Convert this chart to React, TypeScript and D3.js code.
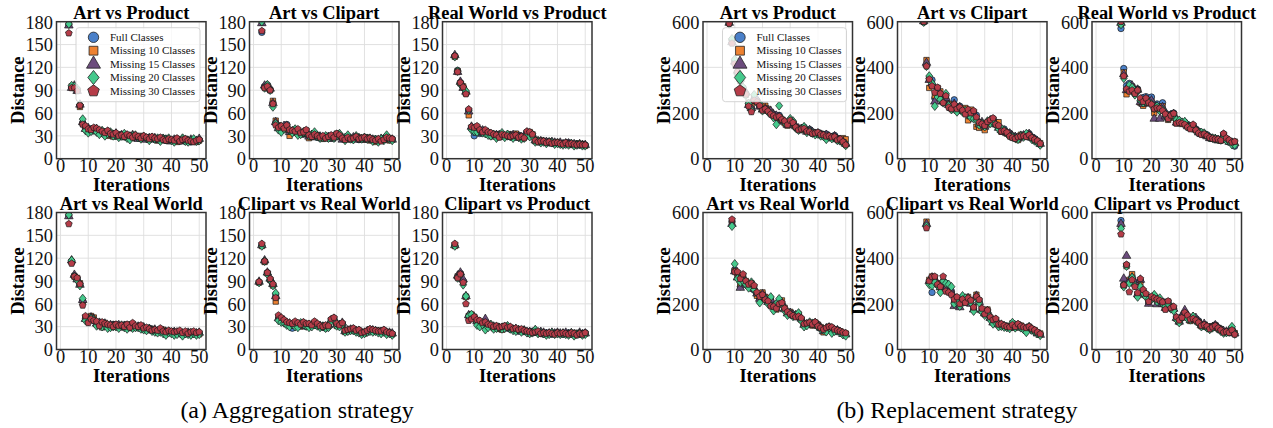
import React from 'react';
import * as d3 from 'd3';

// ---- aggregation strategy (y 0..180) ----
// x starts at 3 unless noted
const aggArtProductFull = [176, 94, 95, 91, 70, 47, 40, 37, 39, 38, 37, 36, 33, 35, 34, 31, 33, 30, 31, 30, 29, 31, 28, 30, 29, 27, 28, 27, 26, 28, 27, 25, 26, 25, 27, 24, 25, 24, 23, 26, 24, 25, 23, 24, 22, 23, 24, 25];
const aggArtProductM10 = [176, 95, 94, 90, 68, 46, 42, 38, 36, 40, 38, 34, 36, 32, 30, 34, 29, 31, 32, 29, 30, 28, 31, 27, 29, 28, 30, 26, 27, 25, 28, 26, 24, 27, 25, 26, 23, 25, 24, 22, 25, 23, 26, 22, 24, 23, 22, 24];
const aggArtProductM15 = [175, 93, 96, 89, 71, 48, 39, 40, 37, 36, 39, 35, 34, 33, 35, 32, 31, 33, 29, 31, 28, 30, 29, 31, 28, 26, 27, 28, 25, 27, 26, 27, 25, 24, 26, 25, 24, 23, 25, 24, 23, 26, 24, 23, 25, 22, 23, 26];
const aggArtProductM20 = [177, 96, 95, 92, 71, 52, 37, 34, 36, 38, 35, 32, 37, 30, 33, 35, 30, 32, 28, 30, 33, 27, 25, 30, 31, 28, 26, 29, 27, 24, 28, 26, 27, 23, 26, 25, 27, 24, 22, 25, 24, 27, 23, 22, 24, 26, 23, 24];
const aggArtProductM30 = [165, 93, 93, 89, 70, 45, 43, 39, 38, 41, 40, 38, 36, 34, 37, 33, 32, 34, 30, 31, 29, 32, 30, 28, 31, 29, 27, 30, 28, 26, 29, 27, 26, 28, 25, 24, 26, 25, 24, 27, 23, 25, 26, 24, 23, 22, 24, 25];

const aggArtClipartFull = [166, 95, 97, 91, 74, 47, 42, 38, 40, 45, 36, 35, 38, 33, 34, 32, 35, 30, 29, 31, 28, 27, 29, 28, 30, 27, 29, 32, 31, 26, 25, 28, 27, 26, 28, 25, 27, 26, 27, 25, 24, 26, 23, 25, 27, 29, 25, 26];
const aggArtClipartM10 = [179, 94, 95, 90, 76, 50, 44, 40, 42, 38, 30, 37, 34, 36, 32, 33, 37, 27, 30, 29, 31, 28, 26, 27, 29, 28, 30, 33, 29, 27, 26, 29, 25, 27, 26, 28, 26, 25, 28, 24, 26, 22, 25, 24, 26, 28, 24, 25];
const aggArtClipartM15 = [178, 96, 96, 92, 73, 48, 40, 39, 43, 41, 35, 36, 37, 35, 33, 34, 33, 29, 31, 28, 30, 29, 27, 28, 28, 26, 28, 31, 30, 25, 27, 27, 26, 28, 25, 27, 25, 27, 26, 25, 25, 24, 24, 26, 25, 27, 26, 25];
const aggArtClipartM20 = [180, 93, 97, 90, 68, 46, 38, 35, 39, 43, 37, 34, 39, 31, 32, 35, 34, 30, 32, 35, 29, 27, 28, 30, 27, 29, 27, 30, 33, 28, 24, 31, 26, 25, 30, 27, 26, 28, 26, 27, 23, 25, 22, 26, 24, 31, 26, 24];
const aggArtClipartM30 = [168, 93, 95, 90, 72, 44, 41, 43, 40, 44, 38, 37, 36, 39, 34, 35, 38, 31, 29, 32, 30, 28, 30, 27, 29, 31, 28, 33, 31, 27, 25, 28, 26, 27, 29, 26, 27, 28, 26, 27, 25, 24, 26, 23, 25, 28, 27, 26];

const aggRealProductFull = [135, 116, 100, 94, 87, 63, 40, 30, 36, 33, 36, 35, 33, 31, 30, 32, 30, 31, 30, 29, 31, 30, 28, 31, 29, 28, 35, 34, 30, 24, 23, 22, 23, 22, 21, 22, 20, 21, 20, 19, 20, 21, 19, 18, 19, 18, 19, 18];
const aggRealProductM10 = [134, 115, 99, 95, 86, 57, 41, 38, 37, 35, 38, 34, 32, 33, 31, 30, 32, 29, 31, 30, 32, 29, 33, 30, 27, 29, 33, 35, 32, 23, 22, 24, 22, 21, 23, 21, 20, 22, 19, 20, 21, 20, 18, 19, 20, 18, 19, 17];
const aggRealProductM15 = [136, 114, 101, 93, 88, 62, 42, 39, 34, 36, 37, 33, 34, 32, 29, 31, 31, 30, 29, 31, 30, 31, 29, 29, 28, 30, 34, 33, 31, 24, 23, 23, 22, 22, 21, 22, 21, 20, 21, 19, 20, 20, 19, 19, 18, 19, 18, 18];
const aggRealProductM20 = [134, 115, 98, 94, 89, 64, 38, 36, 35, 37, 34, 33, 31, 30, 32, 27, 30, 34, 28, 32, 29, 27, 30, 28, 26, 27, 31, 29, 30, 22, 23, 21, 22, 20, 22, 21, 19, 20, 19, 18, 19, 18, 20, 17, 18, 19, 17, 17];
const aggRealProductM30 = [135, 114, 100, 94, 85, 65, 42, 41, 43, 38, 35, 38, 35, 34, 32, 31, 28, 32, 31, 30, 29, 30, 31, 28, 29, 27, 36, 35, 32, 24, 22, 23, 23, 21, 22, 20, 21, 21, 20, 19, 21, 19, 20, 19, 18, 19, 18, 18];

const aggArtRealFull = [176, 116, 97, 93, 86, 64, 41, 39, 43, 38, 35, 36, 34, 33, 32, 31, 33, 32, 31, 30, 32, 31, 29, 33, 30, 31, 29, 28, 27, 28, 26, 25, 24, 26, 25, 22, 24, 23, 22, 21, 23, 19, 22, 21, 20, 22, 20, 21];
const aggArtRealM10 = [176, 115, 96, 94, 87, 63, 42, 38, 44, 42, 33, 34, 29, 35, 31, 30, 32, 33, 30, 31, 29, 33, 28, 31, 29, 30, 30, 27, 28, 26, 27, 24, 25, 23, 26, 24, 22, 24, 21, 22, 21, 22, 20, 23, 21, 20, 22, 20];
const aggArtRealM15 = [175, 117, 98, 92, 85, 65, 40, 40, 42, 40, 34, 35, 33, 34, 30, 32, 31, 31, 32, 29, 31, 30, 30, 32, 28, 30, 28, 29, 26, 27, 25, 26, 23, 25, 24, 23, 23, 22, 23, 21, 22, 20, 21, 22, 21, 21, 21, 22];
const aggArtRealM20 = [177, 117, 96, 91, 84, 67, 38, 37, 41, 39, 31, 33, 30, 32, 28, 29, 30, 30, 28, 32, 29, 27, 31, 28, 29, 29, 27, 26, 25, 27, 24, 23, 22, 23, 21, 19, 22, 21, 19, 20, 22, 18, 21, 20, 19, 21, 19, 20];
const aggArtRealM30 = [165, 113, 96, 94, 86, 58, 44, 35, 40, 38, 37, 31, 36, 34, 33, 32, 30, 33, 31, 32, 30, 33, 29, 35, 31, 30, 32, 28, 29, 27, 25, 26, 25, 28, 24, 23, 25, 24, 23, 24, 25, 22, 24, 21, 23, 24, 22, 23];

// x starts at 2
const aggClipartRealFull = [88, 137, 116, 101, 91, 85, 72, 40, 38, 36, 33, 32, 28, 34, 31, 33, 35, 30, 31, 33, 35, 32, 30, 31, 28, 30, 39, 41, 32, 33, 34, 24, 25, 26, 27, 24, 25, 21, 22, 24, 26, 25, 24, 24, 22, 25, 21, 22, 20];
const aggClipartRealM10 = [88, 136, 115, 100, 92, 84, 63, 42, 40, 37, 34, 33, 32, 31, 34, 30, 32, 33, 30, 32, 34, 31, 31, 29, 30, 31, 38, 40, 31, 34, 33, 23, 24, 25, 26, 25, 23, 22, 21, 23, 25, 24, 23, 25, 23, 24, 22, 21, 20];
const aggClipartRealM15 = [89, 137, 117, 101, 93, 86, 70, 41, 39, 38, 35, 34, 31, 33, 32, 31, 34, 32, 32, 31, 33, 32, 31, 30, 29, 32, 38, 40, 33, 32, 35, 24, 25, 26, 26, 24, 24, 22, 22, 24, 25, 25, 24, 23, 23, 24, 22, 22, 21];
const aggClipartRealM20 = [88, 136, 116, 99, 91, 84, 74, 38, 36, 35, 32, 30, 33, 30, 29, 35, 33, 31, 29, 30, 33, 31, 29, 30, 28, 29, 37, 39, 31, 30, 33, 23, 24, 25, 25, 23, 22, 20, 21, 23, 24, 23, 24, 22, 21, 23, 20, 21, 19];
const aggClipartRealM30 = [89, 139, 116, 101, 93, 86, 68, 45, 42, 39, 36, 35, 34, 37, 35, 33, 36, 34, 34, 32, 37, 34, 31, 30, 32, 31, 40, 42, 34, 32, 35, 25, 26, 27, 28, 25, 26, 22, 23, 25, 27, 26, 25, 24, 24, 26, 23, 22, 21];

const aggClipartProductFull = [137, 95, 100, 90, 70, 43, 44, 41, 36, 34, 32, 35, 30, 31, 29, 30, 28, 27, 30, 28, 27, 26, 25, 24, 26, 24, 23, 22, 24, 23, 22, 21, 20, 22, 21, 20, 21, 22, 21, 20, 21, 22, 20, 19, 21, 20, 21, 22];
const aggClipartProductM10 = [136, 96, 99, 89, 69, 44, 46, 43, 38, 35, 33, 34, 31, 30, 28, 31, 27, 26, 31, 29, 28, 27, 26, 25, 25, 23, 24, 21, 23, 24, 23, 22, 21, 21, 20, 21, 22, 21, 20, 21, 20, 21, 21, 20, 22, 21, 20, 21];
const aggClipartProductM15 = [137, 97, 101, 92, 70, 45, 43, 42, 37, 36, 34, 40, 32, 31, 30, 29, 28, 28, 29, 30, 28, 26, 27, 25, 24, 25, 23, 23, 22, 25, 22, 23, 22, 20, 21, 22, 21, 22, 21, 21, 22, 20, 21, 20, 19, 22, 20, 21];
const aggClipartProductM20 = [136, 94, 98, 85, 70, 44, 46, 40, 32, 30, 33, 26, 29, 33, 27, 28, 29, 27, 28, 31, 27, 25, 24, 26, 23, 25, 22, 21, 22, 26, 21, 22, 21, 19, 20, 22, 20, 21, 20, 21, 20, 19, 22, 18, 20, 21, 19, 20];
const aggClipartProductM30 = [139, 94, 99, 88, 60, 38, 40, 43, 39, 38, 35, 36, 33, 32, 30, 31, 29, 30, 31, 29, 30, 27, 28, 26, 27, 25, 24, 23, 22, 23, 24, 21, 22, 21, 22, 21, 20, 22, 21, 22, 21, 20, 22, 21, 19, 21, 20, 22];

// ---- replacement strategy (y 0..600) ----
// x starts at 8
const repArtProductFull = [598, 520, 430, 380, 345, 310, 285, 240, 225, 262, 255, 235, 218, 225, 210, 200, 195, 180, 190, 170, 160, 150, 170, 160, 140, 130, 128, 138, 120, 128, 118, 112, 115, 110, 105, 108, 100, 95, 102, 90, 85, 78, 62];
const repArtProductM10 = [600, 515, 420, 375, 340, 305, 280, 245, 230, 270, 250, 230, 222, 232, 218, 205, 190, 185, 178, 165, 155, 145, 160, 150, 138, 128, 125, 132, 120, 122, 115, 110, 112, 108, 102, 100, 98, 92, 95, 88, 82, 90, 85];
const repArtProductM15 = [595, 510, 425, 385, 350, 300, 290, 235, 222, 265, 258, 228, 215, 220, 212, 208, 192, 188, 182, 168, 162, 148, 165, 155, 142, 132, 130, 135, 118, 125, 116, 108, 110, 105, 100, 104, 96, 90, 98, 85, 80, 75, 65];
const repArtProductM20 = [590, 525, 435, 370, 338, 312, 278, 242, 212, 280, 245, 240, 210, 215, 205, 198, 180, 150, 232, 175, 158, 155, 175, 165, 135, 125, 132, 140, 115, 120, 112, 105, 108, 100, 98, 85, 95, 88, 92, 80, 78, 70, 58];
const repArtProductM30 = [592, 505, 415, 380, 342, 298, 282, 230, 205, 255, 248, 232, 212, 218, 208, 195, 188, 182, 185, 172, 165, 148, 168, 158, 138, 126, 130, 132, 120, 118, 110, 112, 115, 106, 104, 98, 100, 94, 96, 82, 86, 74, 60];

// x starts at 8
const repArtClipartFull = [598, 410, 352, 345, 265, 300, 270, 248, 262, 238, 225, 258, 220, 230, 215, 200, 210, 195, 205, 190, 160, 145, 150, 160, 165, 175, 160, 140, 120, 130, 115, 112, 100, 98, 90, 95, 100, 105, 110, 95, 88, 75, 62];
const repArtClipartM10 = [600, 432, 310, 320, 275, 310, 295, 255, 270, 240, 220, 232, 210, 218, 208, 222, 168, 215, 198, 140, 135, 155, 125, 150, 162, 170, 155, 160, 118, 122, 110, 108, 95, 92, 82, 105, 98, 100, 95, 90, 80, 78, 68];
const repArtClipartM15 = [602, 420, 345, 330, 250, 305, 275, 250, 265, 235, 222, 240, 215, 225, 210, 205, 200, 185, 200, 175, 150, 160, 140, 158, 168, 165, 150, 135, 125, 118, 112, 110, 98, 95, 88, 100, 102, 98, 108, 92, 85, 76, 65];
const repArtClipartM20 = [598, 405, 362, 330, 230, 270, 260, 245, 285, 232, 215, 230, 205, 220, 205, 212, 195, 180, 175, 170, 148, 155, 140, 165, 155, 160, 148, 130, 132, 125, 110, 100, 95, 90, 85, 100, 95, 110, 102, 85, 78, 70, 60];
const repArtClipartM30 = [600, 405, 348, 318, 290, 312, 285, 245, 275, 225, 218, 238, 218, 225, 212, 195, 215, 200, 210, 182, 158, 152, 145, 162, 170, 178, 150, 145, 120, 122, 115, 98, 92, 88, 95, 98, 100, 96, 104, 92, 84, 78, 66];

// x starts at 9
const repRealProductFull = [570, 395, 320, 330, 318, 298, 305, 250, 268, 272, 262, 270, 215, 240, 225, 245, 200, 185, 195, 200, 160, 165, 158, 160, 150, 138, 145, 130, 120, 112, 110, 105, 95, 90, 88, 85, 82, 108, 88, 78, 70, 55];
const repRealProductM10 = [590, 378, 282, 310, 315, 290, 300, 245, 232, 255, 245, 250, 200, 225, 215, 230, 195, 170, 180, 195, 155, 160, 152, 155, 145, 135, 140, 125, 118, 110, 105, 100, 92, 88, 85, 82, 80, 100, 85, 75, 72, 75];
const repRealProductM15 = [595, 370, 300, 305, 320, 295, 302, 248, 240, 260, 250, 255, 175, 228, 175, 225, 185, 180, 190, 195, 158, 162, 155, 158, 142, 136, 142, 128, 115, 108, 106, 98, 90, 87, 86, 80, 84, 102, 84, 74, 70, 68];
const repRealProductM20 = [588, 352, 305, 322, 312, 280, 298, 255, 245, 250, 248, 240, 220, 230, 210, 215, 190, 178, 188, 192, 170, 168, 160, 162, 140, 140, 138, 125, 118, 115, 112, 100, 92, 90, 88, 84, 82, 95, 80, 76, 62, 60];
const repRealProductM30 = [600, 362, 305, 295, 300, 285, 300, 265, 250, 265, 245, 238, 218, 222, 220, 210, 195, 175, 190, 198, 155, 158, 155, 150, 138, 130, 150, 125, 112, 105, 108, 100, 92, 88, 86, 85, 80, 110, 90, 82, 72, 75];

// x starts at 9
const repArtRealFull = [560, 350, 330, 275, 315, 290, 285, 280, 260, 240, 225, 245, 228, 205, 215, 185, 195, 210, 200, 178, 160, 162, 150, 148, 150, 132, 105, 108, 112, 108, 115, 110, 92, 82, 88, 98, 92, 80, 86, 78, 70, 68];
const repArtRealM10 = [555, 345, 320, 285, 320, 300, 280, 290, 270, 235, 215, 250, 230, 210, 222, 190, 175, 205, 215, 182, 165, 165, 155, 145, 155, 130, 110, 112, 115, 105, 118, 108, 98, 75, 90, 100, 95, 85, 82, 80, 72, 70];
const repArtRealM15 = [550, 342, 315, 270, 310, 285, 282, 285, 265, 245, 222, 242, 225, 208, 218, 188, 180, 212, 205, 176, 158, 160, 152, 150, 148, 135, 108, 110, 112, 110, 116, 105, 95, 80, 92, 96, 90, 82, 84, 76, 68, 66];
const repArtRealM20 = [540, 375, 310, 295, 300, 285, 270, 295, 262, 248, 205, 232, 222, 200, 230, 170, 200, 222, 195, 170, 150, 155, 145, 150, 160, 125, 100, 105, 120, 115, 110, 100, 90, 85, 78, 95, 72, 80, 82, 74, 65, 60];
const repArtRealM30 = [570, 340, 340, 310, 330, 300, 285, 290, 280, 250, 232, 240, 218, 212, 190, 188, 180, 200, 205, 180, 165, 155, 148, 142, 145, 138, 112, 115, 118, 110, 120, 102, 95, 88, 95, 100, 98, 88, 84, 80, 75, 72];

// x starts at 9
const repClipartRealFull = [545, 295, 250, 300, 285, 270, 285, 290, 270, 255, 205, 225, 195, 230, 210, 220, 205, 178, 230, 210, 175, 160, 170, 135, 125, 130, 108, 110, 105, 100, 98, 112, 100, 108, 100, 95, 92, 98, 90, 82, 72, 66];
const repClipartRealM10 = [560, 305, 320, 315, 290, 275, 295, 275, 260, 245, 215, 220, 190, 225, 215, 230, 210, 182, 240, 215, 170, 155, 175, 140, 120, 125, 112, 105, 100, 102, 95, 115, 98, 110, 105, 92, 90, 100, 88, 85, 75, 70];
const repClipartRealM15 = [550, 300, 315, 305, 288, 272, 290, 265, 255, 250, 190, 218, 185, 228, 205, 225, 200, 175, 235, 208, 172, 158, 168, 138, 118, 128, 110, 108, 102, 98, 96, 110, 96, 105, 98, 94, 88, 96, 86, 80, 70, 64];
const repClipartRealM20 = [540, 285, 280, 295, 280, 250, 300, 290, 285, 275, 200, 210, 190, 235, 225, 215, 205, 168, 225, 205, 165, 150, 160, 130, 112, 118, 100, 102, 98, 96, 92, 118, 95, 102, 95, 88, 75, 100, 85, 78, 70, 62];
const repClipartRealM30 = [532, 300, 318, 320, 285, 275, 320, 255, 250, 240, 220, 230, 200, 220, 205, 225, 215, 185, 232, 218, 180, 155, 172, 142, 130, 135, 110, 112, 105, 100, 98, 108, 100, 112, 102, 98, 95, 100, 92, 85, 76, 68];

// x starts at 9
const repClipartProductFull = [565, 285, 370, 295, 320, 285, 235, 300, 255, 240, 205, 228, 235, 222, 205, 210, 185, 205, 185, 180, 140, 125, 145, 158, 145, 130, 140, 135, 125, 105, 110, 100, 92, 100, 108, 96, 90, 78, 76, 80, 90, 70];
const repClipartProductM10 = [545, 280, 365, 305, 330, 290, 240, 295, 250, 235, 210, 225, 230, 215, 210, 205, 180, 210, 190, 175, 135, 120, 140, 155, 140, 125, 135, 130, 120, 102, 108, 98, 90, 102, 105, 92, 88, 80, 75, 78, 88, 72];
const repClipartProductM15 = [550, 310, 410, 300, 315, 295, 242, 305, 258, 238, 200, 225, 232, 198, 215, 200, 182, 200, 180, 178, 138, 122, 148, 172, 148, 128, 142, 138, 122, 106, 112, 100, 94, 98, 106, 95, 86, 80, 78, 82, 92, 70];
const repClipartProductM20 = [530, 275, 365, 290, 315, 280, 230, 275, 248, 230, 220, 220, 240, 210, 225, 200, 190, 200, 178, 170, 132, 118, 138, 150, 135, 130, 145, 125, 115, 100, 105, 95, 88, 95, 100, 90, 80, 72, 74, 76, 100, 68];
const repClipartProductM30 = [505, 282, 372, 252, 305, 275, 248, 310, 262, 245, 210, 232, 225, 220, 215, 208, 175, 212, 182, 188, 142, 128, 140, 162, 150, 132, 135, 128, 118, 104, 108, 102, 90, 98, 104, 94, 85, 75, 78, 74, 85, 66];

const seriesNames = ['Full Classes', 'Missing 10 Classes', 'Missing 15 Classes', 'Missing 20 Classes', 'Missing 30 Classes'];
const seriesColors = ['#4a80c9', '#ee8231', '#6c4c7d', '#45c98c', '#b53c48'];
const xTicks = [0, 10, 20, 30, 40, 50];
const aggYTicks = [0, 30, 60, 90, 120, 150, 180];
const repYTicks = [0, 200, 400, 600];

const pentagon = {
  draw(ctx: any, size: number) {
    const r = Math.sqrt(size / 2.378);
    for (let i = 0; i < 5; i++) {
      const a = -Math.PI / 2 + (i * 2 * Math.PI) / 5;
      if (i === 0) ctx.moveTo(r * Math.cos(a), r * Math.sin(a));
      else ctx.lineTo(r * Math.cos(a), r * Math.sin(a));
    }
    ctx.closePath();
  },
};
const diamond = {
  draw(ctx: any, size: number) {
    const r = Math.sqrt(size / 2);
    ctx.moveTo(0, -r);
    ctx.lineTo(r * 0.8, 0);
    ctx.lineTo(0, r);
    ctx.lineTo(-r * 0.8, 0);
    ctx.closePath();
  },
};
const symbolTypes: any[] = [d3.symbolCircle, d3.symbolSquare, d3.symbolTriangle, diamond, pentagon];
const plotSizes = [32, 29, 32, 38, 30];
const legendSizes = [85, 78, 85, 100, 88];

const panels = [
  { title: 'Art vs Product', rep: false, start: 3, col: 0, row: 0, legend: true, data: [aggArtProductFull, aggArtProductM10, aggArtProductM15, aggArtProductM20, aggArtProductM30] },
  { title: 'Art vs Clipart', rep: false, start: 3, col: 1, row: 0, legend: false, data: [aggArtClipartFull, aggArtClipartM10, aggArtClipartM15, aggArtClipartM20, aggArtClipartM30] },
  { title: 'Real World vs Product', rep: false, start: 3, col: 2, row: 0, legend: false, data: [aggRealProductFull, aggRealProductM10, aggRealProductM15, aggRealProductM20, aggRealProductM30] },
  { title: 'Art vs Real World', rep: false, start: 3, col: 0, row: 1, legend: false, data: [aggArtRealFull, aggArtRealM10, aggArtRealM15, aggArtRealM20, aggArtRealM30] },
  { title: 'Clipart vs Real World', rep: false, start: 2, col: 1, row: 1, legend: false, data: [aggClipartRealFull, aggClipartRealM10, aggClipartRealM15, aggClipartRealM20, aggClipartRealM30] },
  { title: 'Clipart vs Product', rep: false, start: 3, col: 2, row: 1, legend: false, data: [aggClipartProductFull, aggClipartProductM10, aggClipartProductM15, aggClipartProductM20, aggClipartProductM30] },
  { title: 'Art vs Product', rep: true, start: 8, col: 0, row: 0, legend: true, data: [repArtProductFull, repArtProductM10, repArtProductM15, repArtProductM20, repArtProductM30] },
  { title: 'Art vs Clipart', rep: true, start: 8, col: 1, row: 0, legend: false, data: [repArtClipartFull, repArtClipartM10, repArtClipartM15, repArtClipartM20, repArtClipartM30] },
  { title: 'Real World vs Product', rep: true, start: 9, col: 2, row: 0, legend: false, data: [repRealProductFull, repRealProductM10, repRealProductM15, repRealProductM20, repRealProductM30] },
  { title: 'Art vs Real World', rep: true, start: 9, col: 0, row: 1, legend: false, data: [repArtRealFull, repArtRealM10, repArtRealM15, repArtRealM20, repArtRealM30] },
  { title: 'Clipart vs Real World', rep: true, start: 9, col: 1, row: 1, legend: false, data: [repClipartRealFull, repClipartRealM10, repClipartRealM15, repClipartRealM20, repClipartRealM30] },
  { title: 'Clipart vs Product', rep: true, start: 9, col: 2, row: 1, legend: false, data: [repClipartProductFull, repClipartProductM10, repClipartProductM15, repClipartProductM20, repClipartProductM30] },
];

const FONT = "'Liberation Serif', 'Times New Roman', serif";
const aggLefts = [56.5, 249.5, 442.5];
const repLefts = [703, 897.5, 1092];
const rowTops = [21.7, 212.5];
const PW = 149.5;
const PH = 137;

function Panel({ p, idx }: any) {
  const left = p.rep ? repLefts[p.col] : aggLefts[p.col];
  const top = rowTops[p.row];
  const x = d3.scaleLinear().domain([-1.45, 52.45]).range([0, PW]);
  const y = d3.scaleLinear().domain([0, p.rep ? 600 : 180]).range([PH, 0]);
  const yTicks = p.rep ? repYTicks : aggYTicks;
  const clipId = 'clip' + idx;
  const legW = 124;
  const legX = PW - 6 - legW;
  return (
    <g transform={`translate(${left},${top})`}>
      <defs>
        <clipPath id={clipId}>
          <rect x={0} y={0} width={PW} height={PH} />
        </clipPath>
      </defs>
      {xTicks.map((t) => (
        <line key={'gx' + t} x1={x(t)} x2={x(t)} y1={0} y2={PH} stroke="#dedede" strokeWidth={0.9} />
      ))}
      {yTicks.map((t) => (
        <line key={'gy' + t} x1={0} x2={PW} y1={y(t)} y2={y(t)} stroke="#dedede" strokeWidth={0.9} />
      ))}
      <g clipPath={`url(#${clipId})`}>
        {p.data.map((arr: number[], si: number) => {
          const sym = d3.symbol().type(symbolTypes[si]).size(plotSizes[si])();
          return arr.map((v, i) => (
            <path
              key={si + '-' + i}
              d={sym as string}
              transform={`translate(${x(p.start + i)},${y(v)})`}
              fill={seriesColors[si]}
              stroke="#1a1a1a"
              strokeWidth={0.7}
            />
          ));
        })}
      </g>
      <rect x={0} y={0} width={PW} height={PH} fill="none" stroke="#333" strokeWidth={1.5} />
      {xTicks.map((t) => (
        <text key={'tx' + t} x={x(t)} y={PH + 13.5} textAnchor="middle" fontSize={18.4} fontFamily={FONT} fill="#111">
          {t}
        </text>
      ))}
      {yTicks.map((t) => (
        <text key={'ty' + t} x={-3.5} y={y(t) + 6.8} textAnchor="end" fontSize={18.4} fontFamily={FONT} fill="#111">
          {t}
        </text>
      ))}
      <text x={PW / 2} y={-3} textAnchor="middle" fontSize={18.4} fontWeight="bold" fontFamily={FONT}>
        {p.title}
      </text>
      <text x={PW / 2} y={PH + 32} textAnchor="middle" fontSize={18.4} fontWeight="bold" fontFamily={FONT}>
        Iterations
      </text>
      <text
        transform={`translate(${-33},${PH / 2}) rotate(-90)`}
        textAnchor="middle"
        fontSize={18.4}
        fontWeight="bold"
        fontFamily={FONT}
      >
        Distance
      </text>
      {p.legend && (
        <g transform={`translate(${legX},6)`}>
          <rect x={0} y={0} width={legW} height={74} rx={3} fill="#fff" fillOpacity={0.8} stroke="#cfcfcf" strokeWidth={0.9} />
          {seriesNames.map((name, si) => {
            const sym = d3.symbol().type(symbolTypes[si]).size(legendSizes[si])();
            const cy = 9.6 + si * 13.4;
            return (
              <g key={name}>
                <path d={sym as string} transform={`translate(17.5,${cy})`} fill={seriesColors[si]} stroke="#222" strokeWidth={0.8} />
                <text x={34} y={cy + 3.8} fontSize={11} fontFamily={FONT} fill="#111">
                  {name}
                </text>
              </g>
            );
          })}
        </g>
      )}
    </g>
  );
}

export default function App() {
  return (
    <svg width={1273} height={428} style={{ position: 'absolute', left: 0, top: 0, background: '#fff' }}>
      {panels.map((p, i) => (
        <Panel key={i} p={p} idx={i} />
      ))}
      <text x={297} y={418} textAnchor="middle" fontSize={24} fontFamily={FONT}>
        (a) Aggregation strategy
      </text>
      <text x={957} y={418} textAnchor="middle" fontSize={24} fontFamily={FONT}>
        (b) Replacement strategy
      </text>
    </svg>
  );
}
